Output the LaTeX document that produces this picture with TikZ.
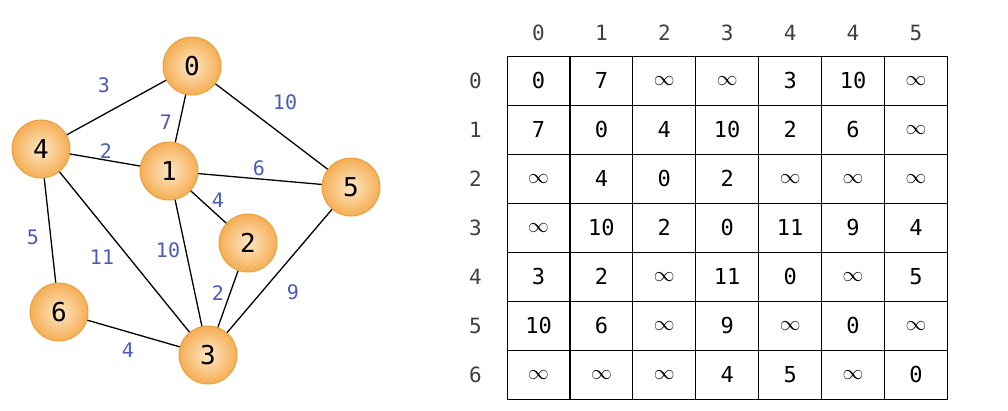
\documentclass[tikz,border=0pt]{standalone}
\usepackage{fontspec}
\setmainfont{DejaVu Sans Mono}
\usetikzlibrary{positioning,matrix}

\definecolor{vtxout}{HTML}{F5AE55}
\definecolor{vtxin}{HTML}{FDE7C4}
\definecolor{vtxline}{HTML}{E9A03C}
\definecolor{wtblue}{HTML}{4A5BB4}
\newcommand{\infsym}{$\infty$}

\begin{document}
\begin{tikzpicture}[x=1pt, y=-1pt,
  vtx/.style={circle, draw=vtxline, line width=1pt, inner color=vtxin, outer color=vtxout, minimum size=58pt, inner sep=0pt, font=\fontsize{26}{26}\selectfont},
  wt/.style={text=wtblue, inner sep=1pt, font=\fontsize{20}{20}\selectfont},
  link/.style={line width=1.3pt},
  cell/.style={draw, line width=1.1pt, anchor=center, minimum width=62.9pt, minimum height=49pt, inner sep=0pt, font=\fontsize{22}{22}\selectfont},
  head/.style={text=black!75, font=\fontsize{21}{21}\selectfont}
]
\useasboundingbox (0,0) rectangle (1008,410);

% graph
\node[vtx] (v0) at (192,66) {0};
\node[vtx] (v4) at (41,149) {4};
\node[vtx] (v1) at (169,171) {1};
\node[vtx] (v5) at (351,187) {5};
\node[vtx] (v2) at (248,243) {2};
\node[vtx] (v6) at (59,312) {6};
\node[vtx] (v3) at (208,355) {3};

\draw[link] (v0) -- (v4);
\draw[link] (v0) -- (v1);
\draw[link] (v0) -- (v5);
\draw[link] (v4) -- (v1);
\draw[link] (v1) -- (v5);
\draw[link] (v1) -- (v2);
\draw[link] (v1) -- (v3);
\draw[link] (v4) -- (v6);
\draw[link] (v4) -- (v3);
\draw[link] (v2) -- (v3);
\draw[link] (v5) -- (v3);
\draw[link] (v6) -- (v3);

% weights
\node[wt] (w04) at (104,85) {3};
\node[wt] (w05) at (285,102) {10};
\node[wt] (w01) at (166,122) {7};
\node[wt] (w41) at (106,151) {2};
\node[wt] (w15) at (259,168) {6};
\node[wt] (w12) at (218,200) {4};
\node[wt] (w46) at (33,237) {5};
\node[wt] (w43) at (102,257) {11};
\node[wt] (w13) at (168,250) {10};
\node[wt] (w23) at (218,293) {2};
\node[wt] (w53) at (293,292) {9};
\node[wt] (w63) at (128,350) {4};

% adjacency matrix
\matrix (adj) [matrix of nodes, nodes={cell}, column sep=-1.1pt, row sep=-1.1pt, anchor=north west] at (503,52) {
0 & 7 & \infsym & \infsym & 3 & 10 & \infsym \\
7 & 0 & 4 & 10 & 2 & 6 & \infsym \\
\infsym & 4 & 0 & 2 & \infsym & \infsym & \infsym \\
\infsym & 10 & 2 & 0 & 11 & 9 & 4 \\
3 & 2 & \infsym & 11 & 0 & \infsym & 5 \\
10 & 6 & \infsym & 9 & \infsym & 0 & \infsym \\
\infsym & \infsym & \infsym & 4 & 5 & \infsym & 0 \\
};

\foreach \hd [count=\ci] in {0,1,2,3,4,4,5}
  \node[head] (col\ci) at ([yshift=23pt]adj-1-\ci.north) {\hd};
\foreach \rw [count=\ri] in {0,...,6}
  \node[head] (row\ri) at ([xshift=-31pt]adj-\ri-1.west) {\rw};
\end{tikzpicture}
\end{document}
